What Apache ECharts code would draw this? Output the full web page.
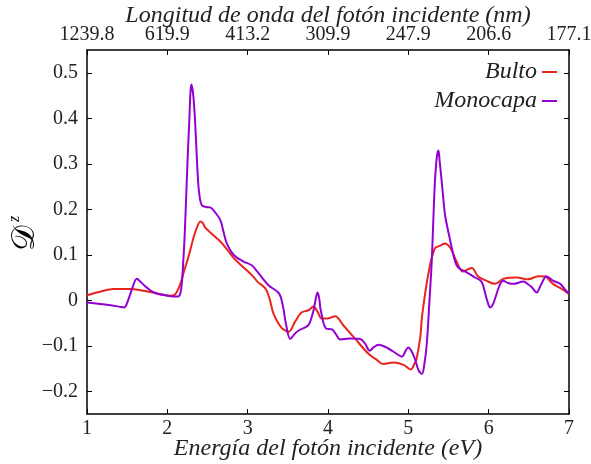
<!DOCTYPE html>
<html>
<head>
<meta charset="utf-8">
<script src="https://cdn.jsdelivr.net/npm/echarts@6/dist/echarts.min.js"></script>
<style>
  html, body { margin: 0; padding: 0; background: #fff; }
  #chart { width: 591px; height: 464px; }
</style>
</head>
<body>
<div id="chart"></div>
<script>
// Photon energy grid (eV) and dichroism values for the bulk sample
const bultoE = [1.00, 1.15, 1.33, 1.54, 1.70, 1.83, 1.95, 2.04, 2.09, 2.12, 2.16, 2.20, 2.27, 2.33, 2.38, 2.41,
  2.44, 2.47, 2.51, 2.58, 2.66, 2.75, 2.83, 2.95, 3.07, 3.12, 3.22, 3.27, 3.32, 3.38, 3.43, 3.51, 3.59, 3.67,
  3.755, 3.82, 3.87, 3.92, 4.00, 4.09, 4.19, 4.34, 4.50, 4.60, 4.69, 4.81, 4.94, 5.03, 5.08, 5.10, 5.15, 5.17,
  5.25, 5.33, 5.40, 5.46, 5.50, 5.54, 5.60, 5.68, 5.74, 5.79, 5.87, 5.97, 6.08, 6.18, 6.35, 6.49, 6.62, 6.70,
  6.80, 6.90, 7.00];
const bultoD = [0.011, 0.018, 0.025, 0.025, 0.021, 0.017, 0.012, 0.010, 0.012, 0.019, 0.035, 0.059, 0.100, 0.140,
  0.165, 0.173, 0.170, 0.160, 0.153, 0.142, 0.129, 0.110, 0.092, 0.072, 0.052, 0.041, 0.026, 0.005, -0.029,
  -0.050, -0.062, -0.069, -0.047, -0.027, -0.022, -0.014, -0.025, -0.040, -0.040, -0.035, -0.055, -0.085,
  -0.117, -0.130, -0.140, -0.137, -0.142, -0.152, -0.138, -0.131, -0.080, -0.036, 0.059, 0.114, 0.120, 0.125,
  0.120, 0.110, 0.085, 0.063, 0.068, 0.071, 0.052, 0.043, 0.036, 0.047, 0.050, 0.046, 0.053, 0.052, 0.036,
  0.026, 0.014];

// Photon energy grid (eV) and dichroism values for the monolayer
const monoE = [1.00, 1.20, 1.40, 1.46, 1.52, 1.57, 1.62, 1.67, 1.73, 1.83, 2.00, 2.13, 2.17, 2.20, 2.22, 2.25,
  2.27, 2.30, 2.32, 2.34, 2.36, 2.38, 2.40, 2.43, 2.48, 2.535, 2.60, 2.66, 2.70, 2.74, 2.83, 2.95, 3.05, 3.12,
  3.26, 3.39, 3.44, 3.48, 3.53, 3.58, 3.63, 3.755, 3.80, 3.82, 3.85, 3.87, 3.89, 3.91, 3.975, 4.05, 4.10, 4.15,
  4.27, 4.40, 4.46, 4.52, 4.57, 4.63, 4.75, 4.85, 4.92, 4.97, 5.00, 5.04, 5.08, 5.13, 5.17, 5.20, 5.23, 5.26,
  5.29, 5.31, 5.33, 5.355, 5.375, 5.39, 5.41, 5.44, 5.46, 5.52, 5.56, 5.60, 5.65, 5.71, 5.83, 5.91, 5.95, 5.98,
  6.02, 6.05, 6.08, 6.13, 6.18, 6.24, 6.31, 6.43, 6.50, 6.54, 6.60, 6.63, 6.66, 6.72, 6.80, 6.89, 6.95, 7.00];
const monoD = [-0.005, -0.009, -0.014, -0.016, 0.004, 0.030, 0.047, 0.040, 0.030, 0.017, 0.010, 0.008, 0.022,
  0.090, 0.160, 0.300, 0.380, 0.474, 0.455, 0.410, 0.340, 0.270, 0.230, 0.209, 0.205, 0.204, 0.192, 0.176,
  0.150, 0.125, 0.099, 0.085, 0.077, 0.063, 0.033, 0.015, -0.014, -0.055, -0.085, -0.075, -0.067, -0.055,
  -0.035, -0.022, 0.005, 0.017, 0.005, -0.022, -0.062, -0.064, -0.075, -0.086, -0.084, -0.085, -0.095, -0.111,
  -0.103, -0.098, -0.106, -0.117, -0.124, -0.110, -0.104, -0.112, -0.128, -0.155, -0.162, -0.140, -0.095,
  -0.010, 0.081, 0.170, 0.257, 0.315, 0.329, 0.305, 0.271, 0.215, 0.184, 0.132, 0.100, 0.077, 0.068, 0.063,
  0.050, 0.041, 0.020, 0.000, -0.016, -0.010, 0.004, 0.030, 0.043, 0.038, 0.036, 0.041, 0.034, 0.028, 0.017,
  0.026, 0.037, 0.053, 0.043, 0.036, 0.024, 0.014];

// Tick labels
const energyTicks = [1, 2, 3, 4, 5, 6, 7];
const wavelengthLabels = ['1239.8', '619.9', '413.2', '309.9', '247.9', '206.6', '177.1'];
const dTicks = [-0.2, -0.1, 0, 0.1, 0.2, 0.3, 0.4, 0.5];

// Axis titles
const bottomTitle = 'Energía del fotón incidente (eV)';
const topTitle = 'Longitud de onda del fotón incidente (nm)';

const serif = "'Liberation Serif', 'DejaVu Serif', serif";
const textColor = '#222';
const pairs = (xs, ys) => xs.map((x, i) => [x, ys[i]]);
const fmtD = v => {
  const r = Math.round(v * 10) / 10;
  return r === 0 ? '0' : String(r).replace('-', '\u2212');
};

const baseX = {
  type: 'value', min: 1, max: 7, interval: 1,
  axisLine: { show: true, onZero: false, lineStyle: { color: '#000', width: 1.5 } },
  axisTick: { show: true, inside: true, length: 5, lineStyle: { color: '#000', width: 1 } },
  splitLine: { show: false }
};
const baseY = {
  type: 'value', min: -0.25, max: 0.55,
  axisLine: { show: true, onZero: false, lineStyle: { color: '#000', width: 1.5 } },
  axisTick: { show: true, inside: true, length: 5, customValues: dTicks, lineStyle: { color: '#000', width: 1 } },
  splitLine: { show: false }
};

const titleFont = 'italic 24px ' + serif;

const chart = echarts.init(document.getElementById('chart'), null, { renderer: 'canvas' });
chart.setOption({
  animation: false,
  backgroundColor: '#fff',
  grid: { left: 87, right: 22, top: 50, bottom: 50, containLabel: false, outerBoundsMode: 'none' },
  legend: {
    orient: 'vertical', right: 29, top: 55, align: 'right', itemGap: 5,
    icon: 'path://M0,0H15V2H0Z', itemWidth: 15, itemHeight: 2,
    textStyle: { fontFamily: serif, fontStyle: 'italic', fontSize: 24, color: textColor, padding: [0, 0, 0, 0] },
    data: ['Bulto', 'Monocapa']
  },
  graphic: [
    { type: 'text', x: 328, y: 449, silent: true,
      style: { text: bottomTitle, font: titleFont, fill: textColor, align: 'center', verticalAlign: 'middle' } },
    { type: 'text', x: 328, y: 16, silent: true,
      style: { text: topTitle, font: titleFont, fill: textColor, align: 'center', verticalAlign: 'middle' } },
    { type: 'text', x: 26, y: 238, rotation: Math.PI / 2, silent: true,
      style: { text: '𝒟', font: "32px 'DejaVu Serif', serif", fill: '#000', align: 'center', verticalAlign: 'middle' } },
    { type: 'text', x: 15, y: 219, rotation: Math.PI / 2, silent: true,
      style: { text: 'z', font: 'italic 16px ' + serif, fill: '#000', align: 'center', verticalAlign: 'middle' } }
  ],
  xAxis: [
    Object.assign({}, baseX, {
      position: 'bottom',
      axisLabel: { margin: 5, fontFamily: serif, fontSize: 20, color: textColor,
        formatter: v => String(v) }
    }),
    Object.assign({}, baseX, {
      position: 'top',
      axisLabel: { margin: 5, fontFamily: serif, fontSize: 20, color: textColor,
        formatter: v => wavelengthLabels[energyTicks.indexOf(Math.round(v))] }
    })
  ],
  yAxis: [
    Object.assign({}, baseY, {
      position: 'left',
      axisLabel: { margin: 9, fontFamily: serif, fontSize: 20, color: textColor,
        customValues: dTicks, formatter: fmtD }
    }),
    Object.assign({}, baseY, {
      position: 'right',
      axisLabel: { show: false, customValues: dTicks }
    })
  ],
  series: [
    {
      name: 'Bulto', type: 'line', xAxisIndex: 0, yAxisIndex: 0,
      data: pairs(bultoE, bultoD), showSymbol: false, smooth: 0.35,
      color: '#e8241c', lineStyle: { width: 2, color: '#e8241c' }
    },
    {
      name: 'Monocapa', type: 'line', xAxisIndex: 0, yAxisIndex: 0,
      data: pairs(monoE, monoD), showSymbol: false, smooth: 0.35,
      color: '#9400d3', lineStyle: { width: 2, color: '#9400d3' }
    }
  ]
});
</script>
</body>
</html>
